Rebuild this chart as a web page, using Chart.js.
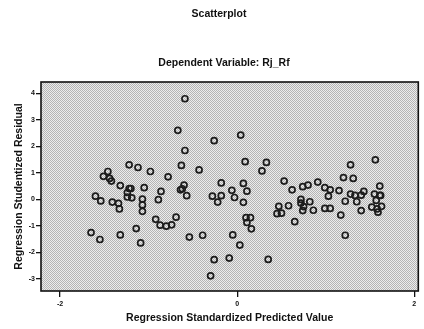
<!DOCTYPE html>
<html>
<head>
<meta charset="utf-8">
<title>Scatterplot</title>
<script src="https://cdn.jsdelivr.net/npm/chart.js@4/dist/chart.umd.min.js"></script>
<style>
    html, body { margin: 0; padding: 0; background: #ffffff; }
    #wrap { width: 424px; height: 329px; position: relative; }
</style>
</head>
<body>
<div id="wrap"><canvas id="scatter"></canvas></div>
<script>
// standardized predicted value (x) and studentized residual (y)
var predicted = [
    -1.65, -1.55, -1.60, -1.54, -1.51, -1.46, -1.44, -1.42, -1.41, -1.34,
    -1.33, -1.32, -1.32, -1.22, -1.22, -1.20, -1.24, -1.24, -1.19, -1.12,
    -1.14, -1.09, -1.07, -1.07, -1.07, -1.05, -0.98, -0.92, -0.89, -0.87,
    -0.86, -0.80, -0.78, -0.74, -0.69, -0.67, -0.63, -0.62, -0.64, -0.60,
    -0.59, -0.59, -0.57, -0.54, -0.43, -0.39, -0.30, -0.28, -0.26, -0.26,
    -0.22, -0.18, -0.18, -0.09, -0.06, -0.05, -0.03, 0.03, 0.04, 0.07,
    0.07, 0.09, 0.11, 0.10, 0.15, 0.11, 0.16, 0.28, 0.33, 0.35,
    0.45, 0.50, 0.47, 0.53, 0.58, 0.62, 0.65, 0.72, 0.72, 0.74,
    0.75, 0.74, 0.80, 0.82, 0.86, 0.91, 0.99, 1.05, 1.03, 0.99,
    1.05, 1.15, 1.17, 1.20, 1.22, 1.22, 1.28, 1.28, 1.31, 1.33,
    1.35, 1.40, 1.40, 1.43, 1.52, 1.55, 1.56, 1.57, 1.58, 1.59,
    1.61, 1.62, 1.61, 1.63
];
var residual = [
    -1.25, -1.51, 0.12, -0.06, 0.87, 1.05, 0.79, 0.69, -0.10, -0.15,
    -0.36, 0.52, -1.34, 1.30, 0.41, 0.41, 0.26, 0.09, 0.06, 1.20,
    -1.10, -1.64, 0.01, -0.21, -0.45, 0.44, 1.05, -0.75, -0.01, -0.97,
    0.30, -1.01, 0.85, -0.96, -0.67, 2.60, 1.28, 0.40, 0.36, 0.54,
    3.79, 1.84, 0.14, -1.42, 1.11, -1.35, -2.88, 0.12, -2.27, 2.21,
    -0.10, 0.14, 0.62, -2.21, 0.34, -1.34, 0.07, -1.72, 2.42, 0.60,
    -0.11, 1.42, 0.31, -0.69, -0.69, -0.87, -1.11, 1.07, 1.39, -2.26,
    -0.54, -0.52, -0.26, 0.69, -0.24, 0.36, -0.84, 0.00, -0.14, 0.48,
    -0.27, -0.42, 0.54, -0.09, -0.41, 0.65, 0.44, 0.36, 0.12, -0.34,
    -0.34, 0.33, -0.59, 0.82, -0.07, -1.35, 1.30, 0.20, 0.79, 0.15,
    -0.09, 0.16, -0.42, 0.30, -0.29, 0.20, 1.49, -0.04, -0.36, -0.48,
    0.15, 0.15, 0.50, -0.26
];
var xTicks = [-2, 0, 2];
var yTicks = [-3, -2, -1, 0, 1, 2, 3, 4];

var mainTitle = 'Scatterplot';
var subTitle = 'Dependent Variable: Rj_Rf';
var xTitle = 'Regression Standardized Predicted Value';
var yTitle = 'Regression Studentized Residual';

var fontFamily = '"Liberation Sans", Arial, Helvetica, sans-serif';

// dotted halftone background like the scanned SPSS plot
function makePattern() {
    var c = document.createElement('canvas');
    c.width = 2;
    c.height = 2;
    var g = c.getContext('2d');
    g.fillStyle = '#ececec';
    g.fillRect(0, 0, 2, 2);
    g.fillStyle = '#b4b4b4';
    g.fillRect(0, 0, 1, 1);
    g.fillRect(1, 1, 1, 1);
    return g.createPattern(c, 'repeat');
}

var framePlugin = {
    id: 'frame',
    beforeDatasetsDraw: function (chart) {
        var a = chart.chartArea;
        var ctx = chart.ctx;
        ctx.save();
        ctx.fillStyle = makePattern();
        ctx.fillRect(a.left, a.top, a.right - a.left, a.bottom - a.top);
        ctx.restore();
    },
    afterDraw: function (chart) {
        var a = chart.chartArea;
        var ctx = chart.ctx;
        ctx.save();
        ctx.strokeStyle = '#111111';
        ctx.lineWidth = 1.6;
        ctx.strokeRect(a.left, a.top, a.right - a.left, a.bottom - a.top);

        // titles above the plot
        ctx.fillStyle = '#111111';
        ctx.textAlign = 'center';
        ctx.textBaseline = 'middle';
        ctx.font = 'bold 10.5px ' + fontFamily;
        ctx.fillText(mainTitle, 219, 14);
        ctx.fillText(subTitle, 224, 63);
        ctx.restore();
    }
};

var points = predicted.map(function (x, i) {
    return { x: x, y: residual[i] };
});

function fixedTicks(list) {
    return function (scale) {
        scale.ticks = list.map(function (v) { return { value: v }; });
    };
}

var ctx = document.getElementById('scatter');
var scatterChart = new Chart(ctx, {
    type: 'scatter',
    data: {
        datasets: [{
            label: 'Rj_Rf',
            data: points,
            pointStyle: 'circle',
            pointRadius: 3,
            pointBorderWidth: 1.7,
            borderColor: '#1c1c1c',
            backgroundColor: 'rgba(0,0,0,0)'
        }]
    },
    options: {
        responsive: true,
        maintainAspectRatio: false,
        animation: false,
        layout: {
            padding: { top: 82, right: 5, bottom: 0, left: 0 }
        },
        plugins: {
            legend: { display: false },
            tooltip: { enabled: false }
        },
        scales: {
            x: {
                type: 'linear',
                min: -2.215,
                max: 2.045,
                afterBuildTicks: fixedTicks(xTicks),
                afterFit: function (scale) { scale.height = 38; },
                border: { display: false },
                grid: {
                    drawOnChartArea: false,
                    drawTicks: true,
                    tickLength: 6,
                    color: '#111111',
                    lineWidth: 1.3
                },
                ticks: {
                    padding: 3,
                    color: '#111111',
                    font: { family: fontFamily, size: 7, weight: 'bold' }
                },
                title: {
                    display: true,
                    text: xTitle,
                    color: '#111111',
                    padding: { top: 0, bottom: 4.7 },
                    font: { family: fontFamily, size: 10.5, weight: 'bold' }
                }
            },
            y: {
                type: 'linear',
                min: -3.45,
                max: 4.42,
                afterBuildTicks: fixedTicks(yTicks),
                afterFit: function (scale) { scale.width = 41; },
                border: { display: false },
                grid: {
                    drawOnChartArea: false,
                    drawTicks: true,
                    tickLength: 5,
                    color: '#111111',
                    lineWidth: 1.3
                },
                ticks: {
                    padding: 1,
                    color: '#111111',
                    font: { family: fontFamily, size: 7, weight: 'bold' }
                },
                title: {
                    display: true,
                    text: yTitle,
                    color: '#111111',
                    padding: { top: 12.7, bottom: 0 },
                    font: { family: fontFamily, size: 10.5, weight: 'bold' }
                }
            }
        }
    },
    plugins: [framePlugin]
});
</script>
</body>
</html>
